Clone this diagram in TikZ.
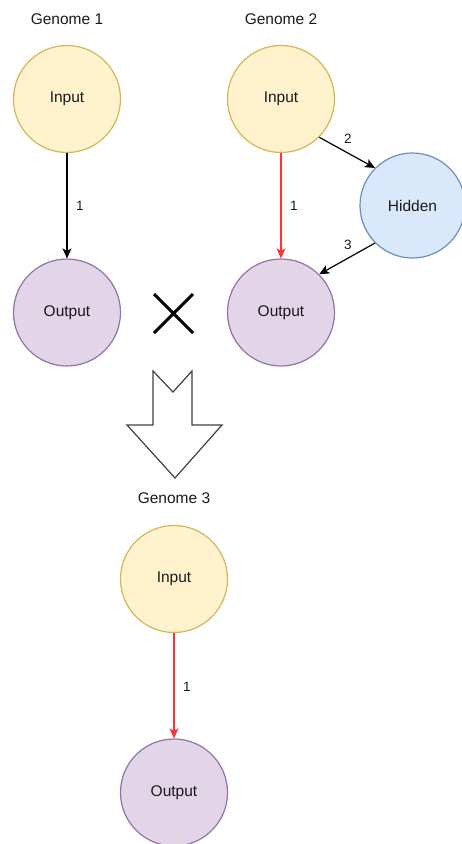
\documentclass[tikz,border=0pt]{standalone}
\usepackage{fontspec}
\setmainfont{Liberation Sans}
\usetikzlibrary{arrows.meta}
\definecolor{yfill}{HTML}{FFF2CC}\definecolor{ydraw}{HTML}{D6B656}
\definecolor{pfill}{HTML}{E1D5E7}\definecolor{pdraw}{HTML}{9673A6}
\definecolor{bfill}{HTML}{DAE8FC}\definecolor{bdraw}{HTML}{6C8EBF}
\definecolor{redline}{HTML}{FF3333}
\definecolor{txt}{HTML}{1A1A1A}
\begin{document}
\begin{tikzpicture}[x=1pt,y=-1pt,
  circ/.style={circle,minimum size=107pt,inner sep=0pt,line width=1.2pt,font=\fontsize{15.5}{18}\selectfont,text=txt},
  inp/.style={circ,fill=yfill,draw=ydraw},
  outp/.style={circ,fill=pfill,draw=pdraw},
  hid/.style={circ,fill=bfill,draw=bdraw,minimum size=105pt},
  title/.style={font=\fontsize{15.5}{18}\selectfont,text=txt},
  elabel/.style={font=\fontsize{13.5}{16}\selectfont,text=txt},
  edge/.style={line width=1.2pt,-{Stealth[length=10pt,width=9pt,inset=2.5pt]}},
  rededge/.style={edge,draw=redline,-{Stealth[length=10pt,width=9pt,inset=2.5pt,fill=redline]}}]
\useasboundingbox (0,0) rectangle (462,844);
\node[title] (g1) at (67,19) {Genome 1};
\node[title] (g2) at (281,19) {Genome 2};
\node[title] (g3) at (174,498) {Genome 3};
\node[inp] (i1) at (67,99) {Input};
\node[outp] (o1) at (67,312.5) {Output};
\node[inp] (i2) at (281,99) {Input};
\node[outp] (o2) at (281,312.5) {Output};
\node[hid] (h2) at (412.5,205.5) {Hidden};
\node[inp] (i3) at (174,579) {Input};
\node[outp] (o3) at (174,792.5) {Output};
\draw[edge] (i1.south) -- (o1.north);
\node[elabel] (l1) at (80,206) {1};
\draw[rededge] (i2.south) -- (o2.north);
\node[elabel] (l2) at (294,206) {1};
\draw[edge] (i2.-45) -- (h2.135);
\node[elabel] (l3) at (348,139) {2};
\draw[edge] (h2.225) -- (o2.45);
\node[elabel] (l4) at (348,245) {3};
\draw[rededge] (i3.south) -- (o3.north);
\node[elabel] (l5) at (187,687) {1};
% cross
\draw[line width=3pt] (154,294) -- (193,333) (193,294) -- (154,333);
% big hollow arrow
\draw[line width=1.2pt,draw=black!75,fill=white,line join=miter]
  (153,371) -- (173,392) -- (192,371) -- (192,425) -- (222,425) -- (175,478) -- (127,425) -- (153,425) -- cycle;
\end{tikzpicture}
\end{document}
